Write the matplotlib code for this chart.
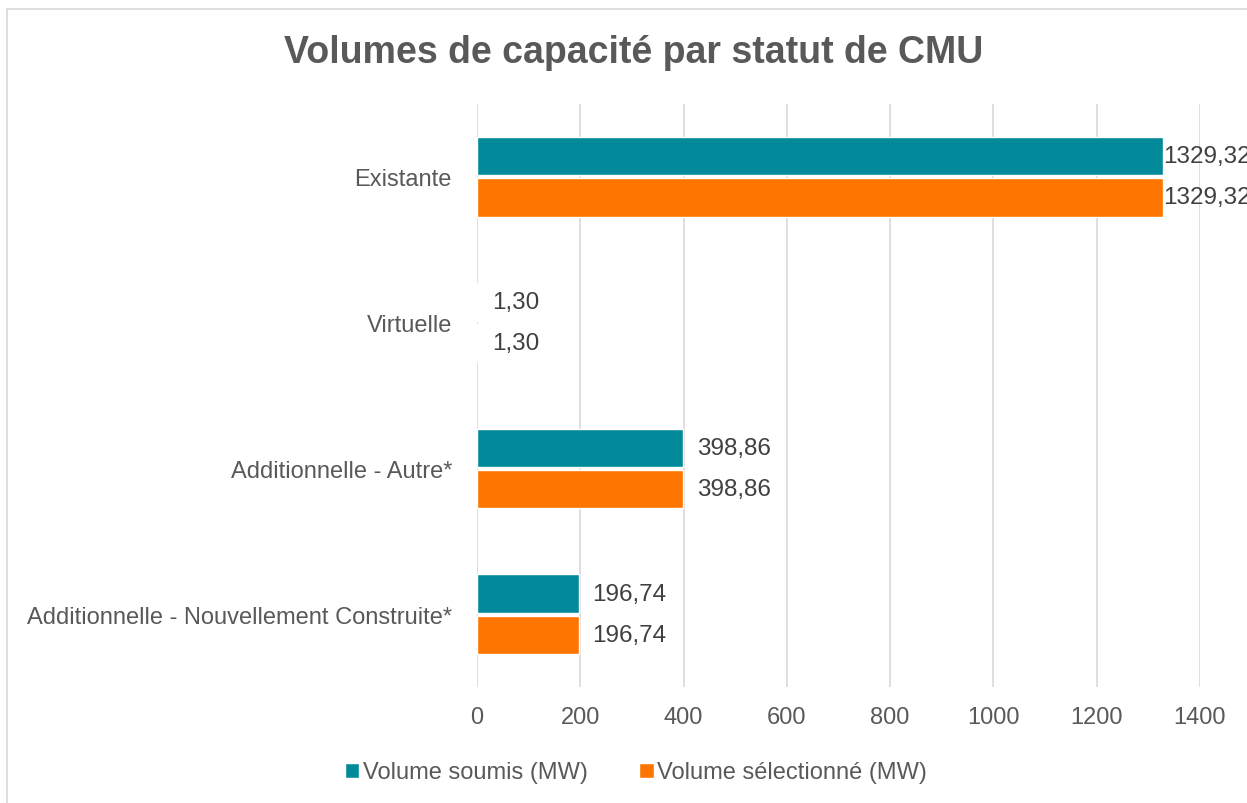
import numpy as np
import matplotlib
matplotlib.use("Agg")
import matplotlib.pyplot as plt
from matplotlib.patches import Rectangle

plt.rcParams['font.family'] = ['Liberation Sans', 'DejaVu Sans']

categories = ["Existante", "Virtuelle", "Additionnelle - Autre*",
              "Additionnelle - Nouvellement Construite*"]
soumis = [1329.32, 1.30, 398.86, 196.74]
selectionne = [1329.32, 1.30, 398.86, 196.74]
series_names = ["Volume soumis (MW)", "Volume sélectionné (MW)"]
colors = ["#028A9A", "#FF7501"]

fig = plt.figure(figsize=(12.47, 8.04), dpi=100)
ax = fig.add_axes([0.3825, 0.1443, 0.5798, 0.7251])

# frame of the chart area
fig.patches.append(Rectangle((0.006, -0.01), 1.2, 0.998, transform=fig.transFigure,
                             fill=False, edgecolor="#D9D9D9", linewidth=1.2))

y = np.arange(len(categories))
h = 0.262
off = 0.141
bars1 = ax.barh(y - off, soumis, height=h, color=colors[0], edgecolor="white",
                linewidth=1, label=series_names[0])
bars2 = ax.barh(y + off, selectionne, height=h, color=colors[1], edgecolor="white",
                linewidth=1, label=series_names[1])

ax.set_xlim(0, 1400)
ax.set_ylim(len(categories) - 0.5, -0.5)
ax.set_xticks(np.arange(0, 1401, 200))
ax.set_yticks(y)
ax.set_yticklabels(categories)
ax.tick_params(axis="both", length=0, labelsize=17, colors="#595959")
ax.tick_params(axis="y", pad=18)
ax.tick_params(axis="x", pad=14)
ax.xaxis.grid(True, color="#D9D9D9", linewidth=1.2)
ax.set_axisbelow(True)
for s in ax.spines.values():
    s.set_visible(False)

for bars in (bars1, bars2):
    for b in bars:
        v = b.get_width()
        pad = 0 if v > 1250 else 14
        ax.annotate(f"{v:.2f}".replace(".", ","), (v, b.get_y() + b.get_height() / 2),
                    xytext=(pad, 0), textcoords="offset pixels", va="center", ha="left",
                    fontsize=17.5, color="#404040", annotation_clip=False)

fig.suptitle("Volumes de capacité par statut de CMU", x=0.508, y=0.957,
             fontsize=27, fontweight="bold", color="#595959")

leg = fig.legend(handles=[bars1, bars2], labels=series_names, loc="center",
                 bbox_to_anchor=(0.51, 0.038), ncol=2, frameon=False, fontsize=17,
                 handlelength=0.6, handleheight=0.6, handletextpad=0.15, columnspacing=2.2)
for t in leg.get_texts():
    t.set_color("#595959")

fig.savefig("out.png", dpi=100)
